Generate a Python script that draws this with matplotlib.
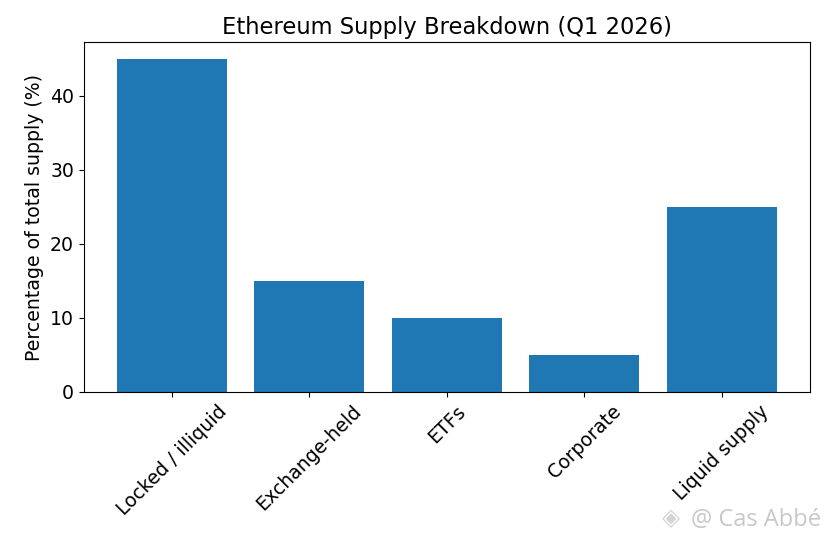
import matplotlib
matplotlib.use('Agg')
import matplotlib.pyplot as plt

categories = ['Locked / illiquid', 'Exchange-held', 'ETFs', 'Corporate', 'Liquid supply']
values = [45, 15, 10, 5, 25]

plt.rcParams['font.size'] = 13.6

fig = plt.figure(figsize=(8.29, 5.42), dpi=100)
ax = fig.add_axes([0.101, 0.277, 0.876, 0.645])
ax.bar(categories, values, color='#1f77b4')
ax.set_title('Ethereum Supply Breakdown (Q1 2026)')
ax.set_ylabel('Percentage of total supply (%)')
plt.setp(ax.get_xticklabels(), rotation=45)

# filigrane
fig.text(0.99, 0.018, '@ Cas Abbé', color='#c8c8c8', fontsize=17,
         ha='right', va='bottom', family='Open Sans')
fig.text(0.81, 0.022, '◈', color='#d4d4d4', fontsize=17,
         ha='center', va='bottom', family='DejaVu Sans')

fig.savefig('out.png', dpi=100)
